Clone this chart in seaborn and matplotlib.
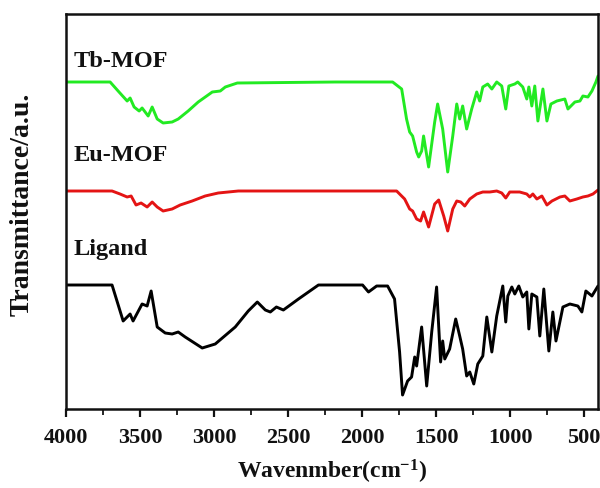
import numpy as np
import pandas as pd
import matplotlib
matplotlib.use("Agg")
import matplotlib.pyplot as plt
import seaborn as sns

# ---- data (wavenumber, cm-1; transmittance, arbitrary offset units) ----
lig_wn = [4000, 3689, 3614, 3567, 3547, 3486, 3452, 3425, 3384, 3330, 3283, 3242, 3195,
          3080, 2992, 2857, 2769, 2708, 2654, 2620, 2579, 2532, 2430, 2295, 2180, 1997,
          1957, 1902, 1828, 1781, 1747, 1727, 1693, 1666, 1645, 1632, 1598, 1564, 1530,
          1497, 1470, 1456, 1442, 1409, 1368, 1341, 1321, 1294, 1273, 1246, 1219, 1185,
          1158, 1124, 1091, 1050, 1030, 1016, 989, 969, 942, 915, 888, 874, 854, 820,
          800, 773, 739, 712, 691, 644, 597, 543, 516, 489, 448, 407]
lig_t = [124, 124, 88, 95, 88, 105, 103, 118, 82, 76, 75, 77, 72,
         61, 65, 82, 98, 107, 99, 97, 102, 99, 110, 124, 124, 124,
         117, 123, 123, 110, 57, 14, 28, 32, 52, 43, 82, 23, 77,
         122, 47, 68, 50, 60, 90, 73, 60, 33, 37, 25, 45, 53,
         92, 57, 93, 123, 87, 113, 122, 115, 123, 112, 117, 80, 115, 112,
         73, 120, 58, 97, 68, 102, 105, 103, 97, 118, 113, 123]

eu_wn = [4000, 3689, 3635, 3587, 3560, 3527, 3493, 3452, 3418, 3384, 3344, 3283, 3229,
         3148, 3060, 2972, 2836, 2180, 1767, 1713, 1679, 1659, 1632, 1605, 1585, 1551,
         1510, 1483, 1449, 1422, 1388, 1361, 1334, 1307, 1273, 1226, 1185, 1138, 1091,
         1057, 1030, 1003, 936, 888, 868, 847, 820, 786, 752, 718, 664, 631, 597, 550,
         509, 475, 441, 407]
eu_t = [218, 218, 215, 212, 213, 204, 206, 202, 207, 202, 198, 200, 204,
        208, 213, 216, 218, 218, 218, 210, 200, 198, 190, 188, 197, 182,
        205, 209, 193, 178, 200, 208, 207, 203, 210, 215, 217, 217, 218,
        216, 211, 217, 217, 215, 212, 215, 210, 213, 204, 208, 212, 213, 208, 210,
        212, 213, 215, 219]

tb_wn = [4000, 3702, 3648, 3587, 3567, 3540, 3506, 3486, 3445, 3418, 3384, 3344, 3283,
         3242, 3175, 3107, 3012, 2958, 2924, 2843, 2180, 1794, 1733, 1700, 1679, 1659,
         1632, 1618, 1598, 1585, 1551, 1510, 1490, 1456, 1422, 1388, 1361, 1341, 1321,
         1294, 1260, 1226, 1206, 1185, 1152, 1124, 1091, 1057, 1030, 1009, 969, 949,
         915, 888, 874, 854, 834, 813, 779, 752, 725, 685, 631, 610, 563, 529, 509,
         475, 448, 421, 407]
tb_t = [327, 327, 318, 308, 311, 302, 298, 301, 293, 302, 290, 286, 287,
        290, 298, 307, 317, 318, 322, 326, 327, 327, 320, 290, 277, 273,
        257, 252, 258, 273, 242, 287, 305, 280, 237, 273, 305, 290, 303,
        280, 300, 317, 308, 322, 325, 320, 327, 323, 300, 323, 325, 327,
        322, 310, 322, 303, 323, 288, 320, 288, 305, 308, 310, 300, 307, 308, 313,
        312, 318, 327, 333]

names = ["Tb-MOF", "Eu-MOF", "Ligand"]
colors = ["#22EA22", "#E41414", "#000000"]
label_y = [343, 249, 155]

df = pd.concat([
    pd.DataFrame({"wn": tb_wn, "t": tb_t, "sample": "Tb-MOF"}),
    pd.DataFrame({"wn": eu_wn, "t": eu_t, "sample": "Eu-MOF"}),
    pd.DataFrame({"wn": lig_wn, "t": lig_t, "sample": "Ligand"}),
])

sns.set_theme(style="white")
plt.rcParams["font.family"] = ["Liberation Serif", "DejaVu Serif"]
plt.rcParams["font.weight"] = "bold"
plt.rcParams["mathtext.fontset"] = "custom"
plt.rcParams["mathtext.rm"] = "Liberation Serif:bold"
plt.rcParams["mathtext.bf"] = "Liberation Serif:bold"
plt.rcParams["mathtext.it"] = "Liberation Serif:bold"

fig = plt.figure(figsize=(6, 4.89), dpi=100)
ax = fig.add_axes([66 / 600, 79 / 489, 532 / 600, 395 / 489])

sns.lineplot(data=df, x="wn", y="t", hue="sample", hue_order=names,
             palette=dict(zip(names, colors)), estimator=None, sort=False,
             linewidth=2.1, legend=False, ax=ax)

for n, c, yy in zip(names, colors, label_y):
    ax.text(3948, yy, n, fontsize=17.5, fontweight="bold", color="#111111",
            va="baseline", ha="left")

ax.set_xlim(4000, 407)
ax.set_ylim(0, 395)
ax.set_xticks([4000, 3500, 3000, 2500, 2000, 1500, 1000, 500])
ax.set_xticks([3750, 3250, 2750, 2250, 1750, 1250, 750], minor=True)
ax.set_yticks([])
ax.tick_params(axis="x", which="major", direction="out", length=6, width=1.6,
               labelsize=16, pad=7, bottom=True, colors="#111111")
ax.tick_params(axis="x", which="minor", direction="out", length=4, width=1.4,
               bottom=True)
for lab in ax.get_xticklabels():
    lab.set_fontweight("bold")
for s in ax.spines.values():
    s.set_linewidth(1.8)
    s.set_color("#111111")

ax.set_xlabel(r"Wavenmber(cm$^{-1}$)", fontsize=17, fontweight="bold", color="#111111")
ax.set_ylabel("Transmittance/a.u.", fontsize=20, fontweight="bold", color="#111111")
ax.xaxis.set_label_coords(0.5, -0.12)
ax.yaxis.set_label_coords(-0.083, 0.52)
ax.yaxis.label.set_va("center")
ax.xaxis.label.set_va("top")

fig.savefig("out.png", dpi=100)
